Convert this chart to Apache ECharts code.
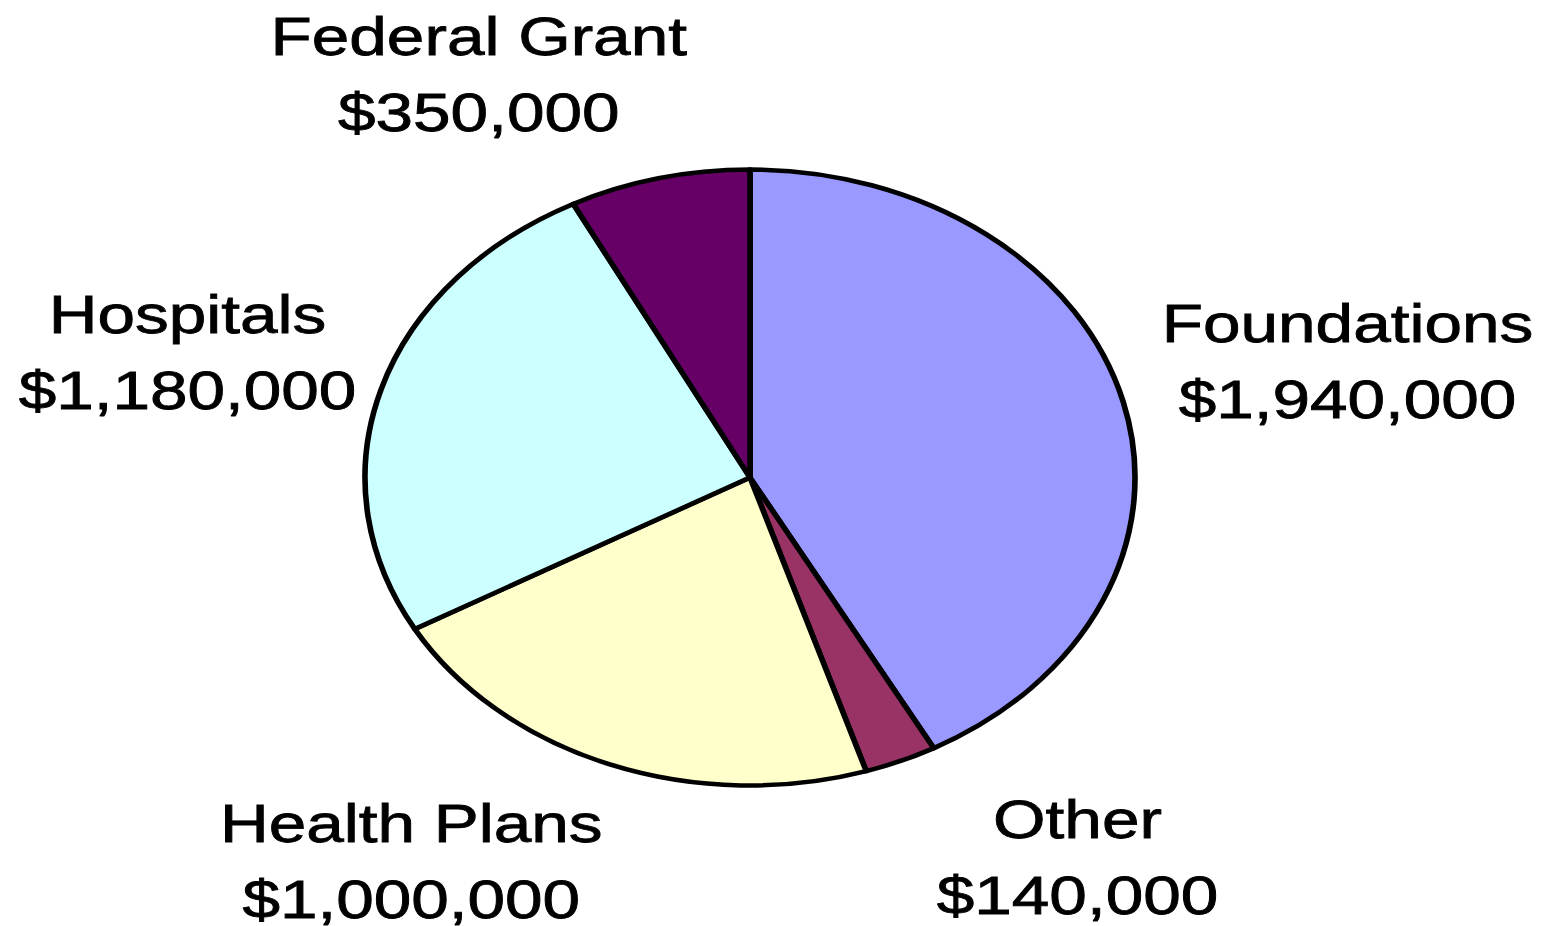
<!DOCTYPE html>
<html>
<head>
<meta charset="utf-8">
<script src="https://cdn.jsdelivr.net/npm/echarts@6/dist/echarts.min.js"></script>
<style>
  html, body { margin: 0; padding: 0; background: #ffffff; overflow: hidden; }
  #wrap { width: 1541px; height: 926px; overflow: hidden; position: relative; }
  #chart { width: 1233px; height: 926px; transform: scaleX(1.25); transform-origin: 0 0; }
</style>
</head>
<body>
<div id="wrap"><div id="chart"></div></div>
<script>
// Data
const categories = ['Foundations', 'Other', 'Health Plans', 'Hospitals', 'Federal Grant'];
const values = [1940000, 140000, 1000000, 1180000, 350000];
const colors = ['#9999FF', '#993366', '#FFFFCC', '#CCFFFF', '#660066'];

// Label layout (canvas coords before horizontal stretch)
const labelX = [1078, 862, 329, 150, 383];
const labelY = [361, 857, 861, 352, 74];

const chart = echarts.init(document.getElementById('chart'), null, { renderer: 'svg' });

const option = {
  animation: false,
  backgroundColor: '#ffffff',
  series: [{
    type: 'pie',
    center: [600, 477.5],
    radius: [0, 308],
    startAngle: 90,
    clockwise: true,
    silent: true,
    data: categories.map((c, i) => ({ name: c, value: values[i], itemStyle: { color: colors[i] } })),
    itemStyle: { borderColor: '#000000', borderWidth: 4.5 },
    label: {
      show: true,
      position: 'outside',
      formatter: p => p.name + '\n$' + p.value.toLocaleString('en-US'),
      fontFamily: '"Liberation Sans", Arial, sans-serif',
      fontSize: 54,
      lineHeight: 76,
      color: '#000000',
      textBorderColor: '#000000',
      textBorderWidth: 0.8,
      align: 'center',
      overflow: 'none',
      width: 600
    },
    labelLine: { show: false },
    labelLayout: p => ({
      x: labelX[p.dataIndex],
      y: labelY[p.dataIndex],
      align: 'center',
      verticalAlign: 'middle',
      moveOverlap: null,
      hideOverlap: false
    }),
    emphasis: { disabled: true }
  }]
};
chart.setOption(option);
</script>
</body>
</html>
